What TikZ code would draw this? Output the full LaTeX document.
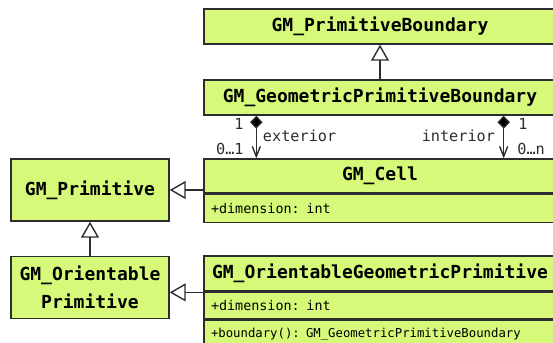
\documentclass[tikz,border=0pt]{standalone}
\usepackage{fontspec}
\setmonofont{DejaVu Sans Mono}
\usetikzlibrary{arrows.meta}
\usetikzlibrary{positioning}

\definecolor{umlfill}{RGB}{214,249,122}
\definecolor{umlline}{RGB}{45,45,45}

\tikzset{
  every picture/.style={/utils/exec={\ttfamily}},
  classbox/.style={draw=umlline, fill=umlfill, line width=0.7pt, inner sep=0pt,
    font=\fontsize{9pt}{14pt}\selectfont\bfseries, align=center},
  wide/.style={minimum width=176pt},
  member/.style={classbox, inner xsep=3.5pt, text width=169pt, align=left,
    font=\fontsize{6.7pt}{8pt}\selectfont},
  generalization/.style={draw=umlline, line width=0.7pt,
    -{Triangle[length=8pt,width=9pt,fill=white]}},
  composition/.style={draw=umlline, line width=0.7pt,
    {Diamond[length=6.5pt,width=6.3pt,fill=black]}-{Straight Barb[length=5pt,width=4pt]}},
  role/.style={font=\fontsize{7.6pt}{9pt}\selectfont, inner sep=1pt, text=umlline}
}

\begin{document}
\begin{tikzpicture}[x=0.5pt, y=-0.5pt, node distance=0pt]
  \useasboundingbox (0,0) rectangle (553,343);
  \clip (0,0) rectangle (553,343);

  % boundary classes
  \node [classbox, wide, minimum height=17.5pt] (pb) at (380,26.5) {GM\_PrimitiveBoundary};
  \node [classbox, wide, minimum height=17.5pt] (gpb) at (380,97.5) {GM\_GeometricPrimitiveBoundary};

  % primitives on the left
  \node [classbox, minimum width=79pt, minimum height=31pt] (prim) at (90,190) {GM\_Primitive};
  \node [classbox, minimum width=79pt, minimum height=31pt, below=17pt of prim] (oprim)
    {GM\_Orientable\\Primitive};

  % cell
  \node [classbox, wide, minimum height=17pt] (cellhead) at (380,176) {GM\_Cell};
  \node [member, minimum height=14pt, below=of cellhead] (cellattr) {+dimension: int};

  % orientable geometric primitive
  \node [classbox, wide, minimum height=17.5pt] (ogphead) at (380,273.5) {GM\_OrientableGeometricPrimitive};
  \node [member, minimum height=13pt, below=of ogphead] (ogpattr) {+dimension: int};
  \node [member, minimum height=14pt, below=of ogpattr, font=\fontsize{6.15pt}{8pt}\selectfont] (ogpop)
    {+boundary(): GM\_GeometricPrimitiveBoundary};

  \draw [generalization] (gpb) -- (pb);
  \draw [generalization] (oprim) -- (prim);
  \draw [generalization] (prim.east -| cellhead.west) -- (prim.east);
  \draw [generalization] ([yshift=-2.5pt]oprim.east -| ogphead.west) -- ([yshift=-2.5pt]oprim.east);

  \draw [composition] ([xshift=26.5pt]gpb.south west) -- ([xshift=26.5pt]cellhead.north west)
    node [role, pos=0.2, left=5pt] {1}
    node [role, pos=0.79, left=5pt] {0…1}
    node [role, pos=0.48, right=2pt] {exterior};
  \draw [composition] ([xshift=-26.5pt]gpb.south east) -- ([xshift=-26.5pt]cellhead.north east)
    node [role, pos=0.2, right=6pt] {1}
    node [role, pos=0.79, right=5.5pt] {0…n}
    node [role, pos=0.48, left=3pt] {interior};
\end{tikzpicture}
\end{document}
